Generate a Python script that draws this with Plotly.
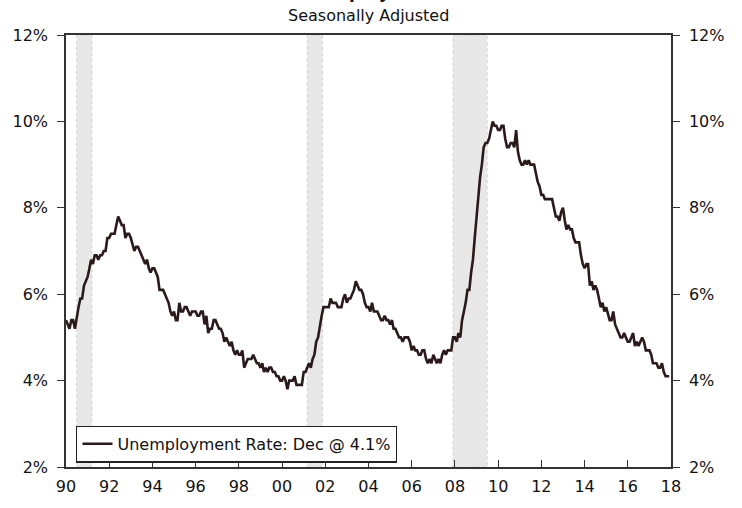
import pandas as pd
import plotly.graph_objects as go

# Monthly unemployment rate, seasonally adjusted, Jan 1990 - Dec 2017 (%)
rate_1990s = [
    5.4, 5.3, 5.2, 5.4, 5.4, 5.2, 5.5, 5.7, 5.9, 5.9, 6.2, 6.3,   # 1990
    6.4, 6.6, 6.8, 6.7, 6.9, 6.9, 6.8, 6.9, 6.9, 7.0, 7.0, 7.3,   # 1991
    7.3, 7.4, 7.4, 7.4, 7.6, 7.8, 7.7, 7.6, 7.6, 7.3, 7.4, 7.4,   # 1992
    7.3, 7.1, 7.0, 7.1, 7.1, 7.0, 6.9, 6.8, 6.7, 6.8, 6.6, 6.5,   # 1993
    6.6, 6.6, 6.5, 6.4, 6.1, 6.1, 6.1, 6.0, 5.9, 5.8, 5.6, 5.5,   # 1994
    5.6, 5.4, 5.4, 5.8, 5.6, 5.6, 5.7, 5.7, 5.6, 5.5, 5.6, 5.6,   # 1995
    5.6, 5.5, 5.5, 5.6, 5.6, 5.3, 5.5, 5.1, 5.2, 5.2, 5.4, 5.4,   # 1996
    5.3, 5.2, 5.2, 5.1, 4.9, 5.0, 4.9, 4.8, 4.9, 4.7, 4.6, 4.7,   # 1997
    4.6, 4.6, 4.7, 4.3, 4.4, 4.5, 4.5, 4.5, 4.6, 4.5, 4.4, 4.4,   # 1998
    4.3, 4.4, 4.2, 4.3, 4.2, 4.3, 4.3, 4.2, 4.2, 4.1, 4.1, 4.0,   # 1999
]
rate_2000s = [
    4.0, 4.1, 4.0, 3.8, 4.0, 4.0, 4.0, 4.1, 3.9, 3.9, 3.9, 3.9,   # 2000
    4.2, 4.2, 4.3, 4.4, 4.3, 4.5, 4.6, 4.9, 5.0, 5.3, 5.5, 5.7,   # 2001
    5.7, 5.7, 5.7, 5.9, 5.8, 5.8, 5.8, 5.7, 5.7, 5.7, 5.9, 6.0,   # 2002
    5.8, 5.9, 5.9, 6.0, 6.1, 6.3, 6.2, 6.1, 6.1, 6.0, 5.8, 5.7,   # 2003
    5.7, 5.6, 5.8, 5.6, 5.6, 5.6, 5.5, 5.4, 5.4, 5.5, 5.4, 5.4,   # 2004
    5.3, 5.4, 5.2, 5.2, 5.1, 5.0, 5.0, 4.9, 5.0, 5.0, 5.0, 4.9,   # 2005
    4.7, 4.8, 4.7, 4.7, 4.6, 4.6, 4.7, 4.7, 4.5, 4.4, 4.5, 4.4,   # 2006
    4.6, 4.5, 4.4, 4.5, 4.4, 4.6, 4.7, 4.6, 4.7, 4.7, 4.7, 5.0,   # 2007
    5.0, 4.9, 5.1, 5.0, 5.4, 5.6, 5.8, 6.1, 6.1, 6.5, 6.8, 7.3,   # 2008
    7.8, 8.3, 8.7, 9.0, 9.4, 9.5, 9.5, 9.6, 9.8, 10.0, 9.9, 9.9,  # 2009
]
rate_2010s = [
    9.8, 9.8, 9.9, 9.9, 9.6, 9.4, 9.4, 9.5, 9.5, 9.4, 9.8, 9.3,   # 2010
    9.1, 9.0, 9.0, 9.1, 9.0, 9.1, 9.0, 9.0, 9.0, 8.8, 8.6, 8.5,   # 2011
    8.3, 8.3, 8.2, 8.2, 8.2, 8.2, 8.2, 8.0, 7.8, 7.8, 7.7, 7.9,   # 2012
    8.0, 7.7, 7.5, 7.6, 7.5, 7.5, 7.3, 7.2, 7.2, 7.2, 6.9, 6.7,   # 2013
    6.6, 6.7, 6.7, 6.2, 6.3, 6.1, 6.2, 6.1, 5.9, 5.7, 5.8, 5.6,   # 2014
    5.7, 5.5, 5.4, 5.4, 5.6, 5.3, 5.2, 5.1, 5.0, 5.0, 5.1, 5.0,   # 2015
    4.9, 4.9, 5.0, 5.1, 4.8, 4.9, 4.8, 4.9, 5.0, 4.9, 4.7, 4.7,   # 2016
    4.7, 4.6, 4.4, 4.4, 4.4, 4.3, 4.3, 4.4, 4.2, 4.1, 4.1, 4.1,   # 2017
]
rates = rate_1990s + rate_2000s + rate_2010s
dates = pd.date_range("1990-01-01", periods=len(rates), freq="MS")

# Recession periods (start, end)
recession_starts = ["1990-07-01", "2001-03-01", "2007-12-01"]
recession_ends = ["1991-03-15", "2001-11-15", "2009-06-30"]

x_tick_years = list(range(1990, 2019, 2))
x_tick_labels = [f"{y % 100:02d}" for y in x_tick_years]
y_tick_vals = [2, 4, 6, 8, 10, 12]
y_tick_labels = [f"{v}%" for v in y_tick_vals]

line_color = "#2b1a1c"
axis_color = "#333333"
font_family = "DejaVu Sans, Verdana, sans-serif"
tick_font = dict(size=16, color="#111111")

fig = go.Figure()
fig.add_trace(go.Scatter(
    x=dates, y=rates, mode="lines",
    line=dict(color=line_color, width=2.6),
    name=f"Unemployment Rate: Dec @ {rates[-1]:.1f}%",
))
# same series on the right axis (transparent) so the right labels render
fig.add_trace(go.Scatter(
    x=dates, y=rates, mode="lines", yaxis="y2",
    line=dict(color="rgba(0,0,0,0)", width=0),
    showlegend=False, hoverinfo="skip",
))

for s, e in zip(recession_starts, recession_ends):
    fig.add_shape(type="rect", xref="x", yref="paper", x0=s, x1=e, y0=0, y1=1,
                  fillcolor="#e8e8e8", line=dict(color="#d2d2d2", width=1, dash="dot"),
                  layer="below")

yaxis_common = dict(
    range=[2, 12], tickvals=y_tick_vals, ticktext=y_tick_labels,
    ticks="outside", ticklen=7, tickwidth=1.2, tickcolor=axis_color,
    showline=True, linecolor=axis_color, linewidth=1.5,
    showgrid=False, zeroline=False, tickfont=tick_font,
    ticklabelstandoff=6,
)

fig.update_layout(
    width=742, height=508,
    margin=dict(l=65, r=71, t=35, b=28),
    paper_bgcolor="white", plot_bgcolor="white",
    font=dict(family=font_family, size=16, color="#111111"),
    showlegend=True,
    legend=dict(x=0.017, y=0.01, xanchor="left", yanchor="bottom",
                bgcolor="white", bordercolor="#222222", borderwidth=1.2,
                font=dict(size=16, color="#111111"),
                itemwidth=30, tracegroupgap=0),
    xaxis=dict(
        range=["1990-01-01", "2018-01-01"],
        tickvals=[f"{y}-01-01" for y in x_tick_years],
        ticktext=x_tick_labels,
        ticks="inside", ticklen=7, tickwidth=1.2, tickcolor=axis_color,
        showline=True, linecolor=axis_color, linewidth=1.5, mirror=True,
        showgrid=False, zeroline=False,
        tickfont=tick_font, ticklabelstandoff=4,
    ),
    yaxis=yaxis_common,
    yaxis2=dict(yaxis_common, overlaying="y", side="right"),
    annotations=[
        dict(text="<b>U.S. Unemployment Rate</b>", xref="paper", yref="paper",
             x=0.5, y=1.072, xanchor="center", yanchor="bottom", showarrow=False,
             font=dict(size=17, color="#111111")),
        dict(text="Seasonally Adjusted", xref="paper", yref="paper",
             x=0.5, y=1.045, xanchor="center", yanchor="middle", showarrow=False,
             font=dict(size=16, color="#111111")),
    ],
)

fig.write_html("out.html")
